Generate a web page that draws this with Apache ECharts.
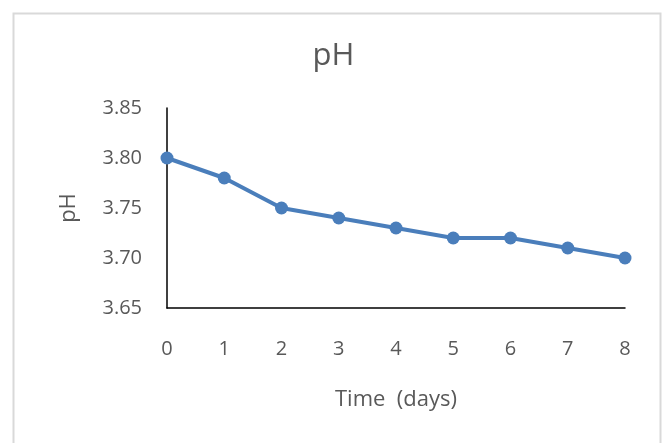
<!DOCTYPE html>
<html><head><meta charset="utf-8">
<script src="https://cdn.jsdelivr.net/npm/echarts@6/dist/echarts.min.js"></script>
<style>html,body{margin:0;padding:0;background:#fff}#c{width:667px;height:443px}</style>
</head><body><div id="c"></div>
<script>
const days = ['0','1','2','3','4','5','6','7','8'];
const phValues = [3.80, 3.78, 3.75, 3.74, 3.73, 3.72, 3.72, 3.71, 3.70];
const yTicks = {min: 3.65, max: 3.85, interval: 0.05};
const font = "'Open Sans', 'Liberation Sans', sans-serif";
const chart = echarts.init(document.getElementById('c'), null, {renderer: 'canvas'});
chart.setOption({
  animation: false,
  backgroundColor: '#fff',
  graphic: [{type: 'rect', shape: {x: 13.5, y: 13.5, width: 647, height: 460}, style: {fill: 'none', stroke: '#d9d9d9', lineWidth: 2}}],
  title: {text: 'pH', left: 'center', top: 36, textStyle: {fontFamily: font, fontSize: 31, fontWeight: 'normal', color: '#595959'}},
  grid: {left: 167, right: 42, top: 108, bottom: 135},
  xAxis: {
    type: 'category', data: days, boundaryGap: false,
    name: 'Time  (days)', nameLocation: 'middle', nameGap: 81,
    nameTextStyle: {fontFamily: font, fontSize: 22, color: '#595959'},
    axisLine: {lineStyle: {color: '#000', width: 1.5}},
    axisTick: {show: false},
    axisLabel: {fontFamily: font, fontSize: 20, color: '#595959', margin: 31}
  },
  yAxis: {
    type: 'value', min: yTicks.min, max: yTicks.max, interval: yTicks.interval,
    name: 'pH', nameLocation: 'middle', nameGap: 87, nameRotate: 90,
    nameTextStyle: {fontFamily: font, fontSize: 22, color: '#595959'},
    axisLine: {show: true, lineStyle: {color: '#000', width: 1.5}},
    axisTick: {show: false},
    splitLine: {show: false},
    axisLabel: {fontFamily: font, fontSize: 20, color: '#595959', margin: 25, formatter: v => v.toFixed(2)}
  },
  series: [{
    type: 'line', data: phValues,
    symbol: 'circle', symbolSize: 13,
    lineStyle: {color: '#4a7ebb', width: 4},
    itemStyle: {color: '#4a7ebb'}
  }]
});
</script></body></html>
